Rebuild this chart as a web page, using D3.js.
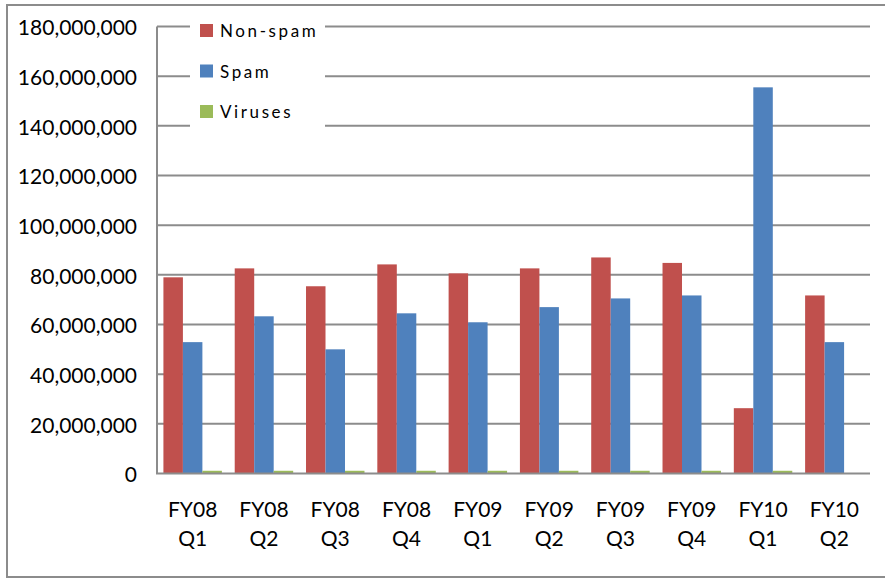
<!DOCTYPE html>
<html>
<head>
<meta charset="utf-8">
<script src="https://cdn.jsdelivr.net/npm/d3@7"></script>
<style>
  body { margin: 0; background: #fff; }
  text { font-family: Lato, "Open Sans", sans-serif; fill: #000; }
</style>
</head>
<body>
<script>
const w = 885;
const h = 578;

// data
const quarters = ["FY08 Q1", "FY08 Q2", "FY08 Q3", "FY08 Q4", "FY09 Q1", "FY09 Q2", "FY09 Q3", "FY09 Q4", "FY10 Q1", "FY10 Q2"];
const series = ["Non-spam", "Spam", "Viruses"];
const nonSpam = [79000000, 82600000, 75400000, 84200000, 80600000, 82600000, 87000000, 84800000, 26300000, 71700000];
const spam = [52900000, 63300000, 50000000, 64500000, 60900000, 67000000, 70500000, 71700000, 155500000, 52900000];
const viruses = [1100000, 1100000, 1100000, 1100000, 1100000, 1100000, 1100000, 1100000, 1100000, 0];
const yTicks = [0, 20000000, 40000000, 60000000, 80000000, 100000000, 120000000, 140000000, 160000000, 180000000];

const colors = ["#C0504D", "#4F81BD", "#9BBB59"];
const gridColor = "#8c8c8c";

const svg = d3.select("body")
  .append("svg")
  .attr("width", w)
  .attr("height", h);

// outer chart border
svg.append("rect")
  .attr("x", 7)
  .attr("y", 5)
  .attr("width", w + 10)
  .attr("height", 572)
  .attr("fill", "#fff")
  .attr("stroke", gridColor)
  .attr("stroke-width", 2);

const plotLeft = 157, plotRight = 870, plotTop = 26.5, plotBottom = 473.5;

const x0 = d3.scaleBand()
  .domain(quarters)
  .range([plotLeft, plotRight])
  .paddingInner(0.18)
  .paddingOuter(0.09);

const x1 = d3.scaleBand()
  .domain(series)
  .range([0, x0.bandwidth()]);

const y = d3.scaleLinear()
  .domain([0, 180000000])
  .range([plotBottom, plotTop]);

// gridlines
svg.append("g")
  .selectAll("line")
  .data(yTicks.slice(1))
  .enter()
  .append("line")
  .attr("x1", plotLeft)
  .attr("x2", plotRight)
  .attr("y1", d => y(d))
  .attr("y2", d => y(d))
  .attr("stroke", gridColor)
  .attr("stroke-width", 2);

// y axis labels
const yAxis = d3.axisLeft(y)
  .tickValues(yTicks)
  .tickSize(0)
  .tickPadding(20)
  .tickFormat(d3.format(","));

const yAxisGroup = svg.append("g")
  .attr("transform", `translate(${plotLeft}, 0)`)
  .call(yAxis);
yAxisGroup.select(".domain").remove();
yAxisGroup.selectAll(".tick text")
  .style("font-size", "21px")
  .style("font-family", "Lato, sans-serif")
  .attr("dy", "0.4em");

// bars
const rows = quarters.map((q, i) => ({ q: q, vals: [nonSpam[i], spam[i], viruses[i]] }));

const groups = svg.append("g")
  .selectAll("g")
  .data(rows)
  .enter()
  .append("g")
  .attr("transform", d => `translate(${x0(d.q)}, 0)`);

groups.selectAll("rect")
  .data(d => d.vals.map((v, j) => ({ s: series[j], v: v, c: colors[j] })))
  .enter()
  .append("rect")
  .attr("x", d => x1(d.s))
  .attr("y", d => y(d.v))
  .attr("width", x1.bandwidth())
  .attr("height", d => plotBottom - y(d.v))
  .attr("fill", d => d.c);

// axis lines
svg.append("line")
  .attr("x1", plotLeft).attr("x2", plotLeft)
  .attr("y1", plotTop).attr("y2", plotBottom)
  .attr("stroke", gridColor).attr("stroke-width", 2);
svg.append("line")
  .attr("x1", plotLeft - 1).attr("x2", plotRight)
  .attr("y1", plotBottom).attr("y2", plotBottom)
  .attr("stroke", gridColor).attr("stroke-width", 2);

// category labels on two lines
const xLabels = svg.append("g")
  .selectAll("text")
  .data(quarters)
  .enter()
  .append("text")
  .attr("text-anchor", "middle")
  .style("font-size", "21px");
xLabels.append("tspan")
  .attr("x", d => x0(d) + x0.bandwidth() / 2)
  .attr("y", 517)
  .text(d => d.split(" ")[0]);
xLabels.append("tspan")
  .attr("x", d => x0(d) + x0.bandwidth() / 2)
  .attr("y", 546)
  .text(d => d.split(" ")[1]);

// legend
const legend = svg.append("g");
legend.append("rect")
  .attr("x", 190)
  .attr("y", 12)
  .attr("width", 135)
  .attr("height", 122)
  .attr("fill", "#fff");

const legendItems = legend.selectAll("g")
  .data(series)
  .enter()
  .append("g")
  .attr("transform", (d, i) => `translate(200, ${24 + i * 40.5})`);
legendItems.append("rect")
  .attr("width", 13)
  .attr("height", 13)
  .attr("fill", (d, i) => colors[i]);
legendItems.append("text")
  .attr("x", 20)
  .attr("y", 13)
  .style("font-size", "17px")
  .style("letter-spacing", "2.6px")
  .text(d => d);
</script>
</body>
</html>
